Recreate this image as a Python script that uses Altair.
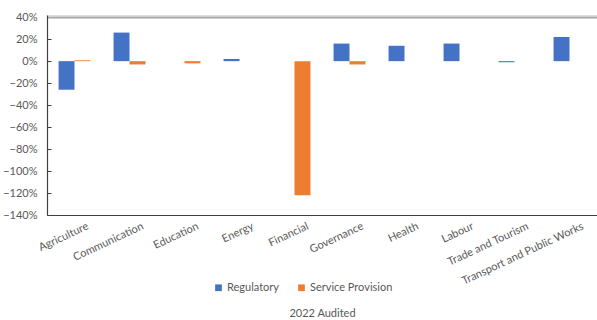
import altair as alt
import pandas as pd

categories = ["Agriculture", "Communication", "Education", "Energy", "Financial",
              "Governance", "Health", "Labour", "Trade and Tourism",
              "Transport and Public Works"]
regulatory = [-0.26, 0.26, 0.0, 0.02, 0.0, 0.16, 0.14, 0.16, -0.01, 0.22]
service = [0.008, -0.03, -0.02, 0.0, -1.22, -0.03, 0.0, 0.0, 0.0, 0.0]
series = ["Regulatory", "Service Provision"]
colors = ["#4472C4", "#ED7D31"]
y_ticks = [0.4, 0.2, 0.0, -0.2, -0.4, -0.6, -0.8, -1.0, -1.2, -1.4]

rows = []
for c, r, s in zip(categories, regulatory, service):
    rows.append({"cat": c, "series": series[0], "v": r})
    rows.append({"cat": c, "series": series[1], "v": s})
df = pd.DataFrame(rows)

FONT = "Lato"
GREY = "#595959"

yscale = alt.Scale(domain=[-1.4, 0.42], nice=False, zero=False)

chart = alt.Chart(df).mark_bar().encode(
    x=alt.X("cat:N", sort=categories,
            scale=alt.Scale(paddingInner=0.42, paddingOuter=0.21),
            axis=alt.Axis(title="2022 Audited", labelAngle=-25, labelAlign="right",
                          labelBaseline="top", labelPadding=5, labelOffset=11,
                          ticks=False, labelOverlap=False, labelBound=False,
                          domainColor="#404040", domainWidth=1.2,
                          labelColor=GREY, labelFont=FONT, labelFontSize=11,
                          titleFont=FONT, titleFontSize=11, titleColor=GREY,
                          titleFontWeight="normal", titleY=98, titleBaseline="middle")),
    xOffset=alt.XOffset("series:N", sort=series,
                        scale=alt.Scale(paddingInner=0, paddingOuter=0)),
    y=alt.Y("v:Q", scale=yscale,
            axis=alt.Axis(title=None, values=y_ticks, format=".0%",
                          grid=True,
                          gridColor={"condition": {"test": "datum.value < 0.39", "value": "#404040"},
                                     "value": "#a6a6a6"},
                          gridWidth={"condition": {"test": "datum.value < 0.39", "value": 1},
                                     "value": 2},
                          gridDash={"condition": {"test": "datum.value < 0.39", "value": [4, 2000]},
                                    "value": []},
                          ticks=False,
                          domainColor="#404040", domainWidth=1.2,
                          labelOverlap=False, labelBound=False, labelFlush=False,
                          labelColor=GREY, labelFont=FONT, labelFontSize=11,
                          labelPadding=10)),
    color=alt.Color("series:N", sort=series,
                    scale=alt.Scale(domain=series, range=colors),
                    legend=alt.Legend(title=None, orient="none", direction="horizontal",
                                      legendX=166, legendY=267, symbolType="square",
                                      symbolSize=45, symbolStrokeWidth=0,
                                      labelFont=FONT, labelFontSize=11, labelColor=GREY,
                                      columnPadding=16, labelOffset=3)),
).transform_filter("datum.v != 0").properties(
    width=550, height=200,
    padding={"left": 47, "top": 15, "right": 0, "bottom": 105},
    autosize=alt.AutoSizeParams(type="none"),
).configure_view(stroke=None).configure(background="white")

chart.save("out.html", embed_options={"renderer": "svg", "actions": False})
